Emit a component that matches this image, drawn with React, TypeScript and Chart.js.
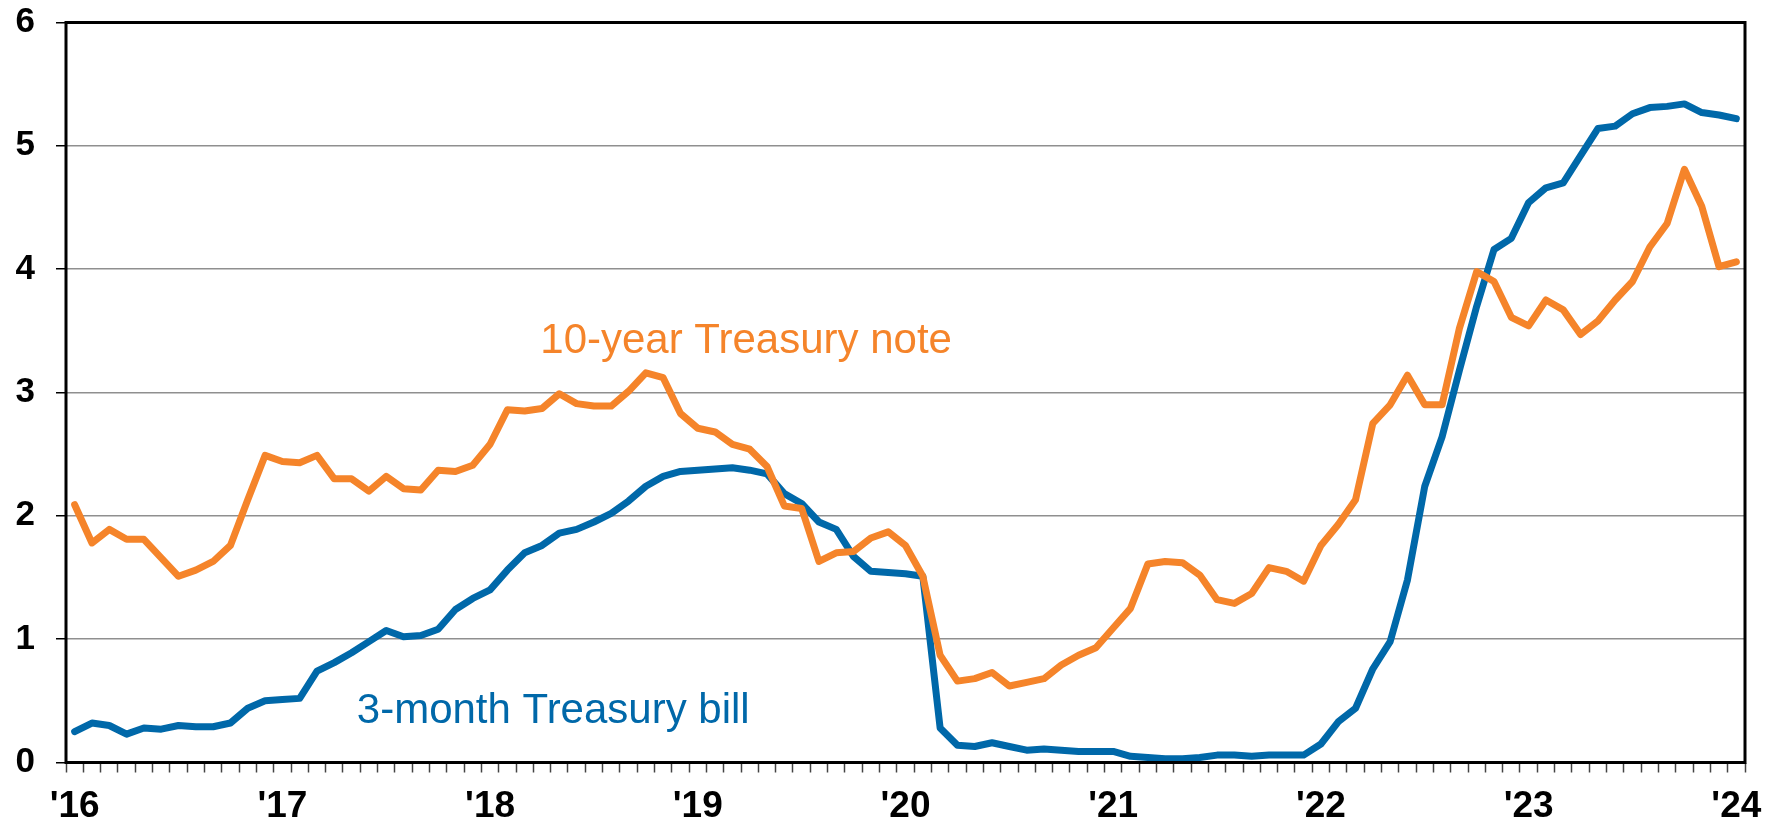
import { useEffect, useRef } from 'react';
import { Chart, registerables } from 'chart.js';

Chart.register(...registerables);

// ---- data ----
const YEARS = [2016, 2017, 2018, 2019, 2020, 2021, 2022, 2023, 2024];
const MONTHS = ['Jan', 'Feb', 'Mar', 'Apr', 'May', 'Jun', 'Jul', 'Aug', 'Sep', 'Oct', 'Nov', 'Dec'];
const yearTickLabels = ["'16", "'17", "'18", "'19", "'20", "'21", "'22", "'23", "'24"];

// monthly categories Jan 2016 .. Jan 2024
const categories: string[] = [];
YEARS.forEach((yr) => {
  MONTHS.forEach((m) => {
    if (yr < 2024 || m === 'Jan') categories.push(`${m} ${yr}`);
  });
});

const tenYearNote = [
  2.09, 1.78, 1.89, 1.81, 1.81, 1.66, 1.51, 1.56, 1.63, 1.76, 2.13, 2.49,
  2.44, 2.43, 2.49, 2.30, 2.30, 2.20, 2.32, 2.22, 2.21, 2.37, 2.36, 2.41,
  2.58, 2.86, 2.85, 2.87, 2.99, 2.91, 2.89, 2.89, 3.01, 3.16, 3.12, 2.83,
  2.71, 2.68, 2.58, 2.54, 2.40, 2.08, 2.06, 1.63, 1.70, 1.71, 1.82, 1.87,
  1.76, 1.51, 0.87, 0.66, 0.68, 0.73, 0.62, 0.65, 0.68, 0.79, 0.87, 0.93,
  1.09, 1.25, 1.61, 1.63, 1.62, 1.52, 1.32, 1.29, 1.37, 1.58, 1.55, 1.47,
  1.76, 1.93, 2.13, 2.75, 2.90, 3.14, 2.90, 2.90, 3.52, 3.98, 3.90, 3.61,
  3.54, 3.75, 3.67, 3.47, 3.58, 3.75, 3.90, 4.18, 4.37, 4.81, 4.51, 4.02,
  4.06,
];

const threeMonthBill = [
  0.25, 0.32, 0.30, 0.23, 0.28, 0.27, 0.30, 0.29, 0.29, 0.32, 0.44, 0.50,
  0.51, 0.52, 0.74, 0.81, 0.89, 0.98, 1.07, 1.02, 1.03, 1.08, 1.24, 1.33,
  1.40, 1.56, 1.70, 1.76, 1.86, 1.89, 1.95, 2.02, 2.12, 2.24, 2.32, 2.36,
  2.37, 2.38, 2.39, 2.37, 2.34, 2.18, 2.10, 1.95, 1.89, 1.67, 1.55, 1.54,
  1.53, 1.51, 0.28, 0.14, 0.13, 0.16, 0.13, 0.10, 0.11, 0.10, 0.09, 0.09,
  0.09, 0.05, 0.04, 0.03, 0.03, 0.04, 0.06, 0.06, 0.05, 0.06, 0.06, 0.06,
  0.15, 0.33, 0.44, 0.76, 0.98, 1.48, 2.24, 2.64, 3.18, 3.70, 4.16, 4.25,
  4.54, 4.66, 4.70, 4.92, 5.14, 5.16, 5.26, 5.31, 5.32, 5.34, 5.27, 5.25,
  5.22,
];

const seriesNames = ['10-year Treasury note', '3-month Treasury bill'];

// ---- styles ----
const ORANGE = '#F5842A';
const BLUE = '#0068A9';
const FONT = '"Liberation Sans", Arial, Helvetica, sans-serif';

// annotation anchors in data coordinates (category index, value at baseline)
const annotations = [
  { text: seriesNames[0], color: ORANGE, at: 26.9, value: 3.32 },
  { text: seriesNames[1], color: BLUE, at: 16.3, value: 0.32 },
];

const labelPlugin = {
  id: 'seriesLabels',
  afterDatasetsDraw(chart: any) {
    const { ctx, scales } = chart;
    ctx.save();
    ctx.font = `42px ${FONT}`;
    ctx.textAlign = 'left';
    ctx.textBaseline = 'alphabetic';
    annotations.forEach((a) => {
      ctx.fillStyle = a.color;
      ctx.fillText(a.text, scales.x.getPixelForValue(a.at), scales.y.getPixelForValue(a.value));
    });
    ctx.restore();
  },
};

const framePlugin = {
  id: 'frame',
  afterDraw(chart: any) {
    const { ctx, chartArea } = chart;
    ctx.save();
    ctx.strokeStyle = '#000';
    ctx.lineWidth = 3;
    ctx.strokeRect(chartArea.left, chartArea.top, chartArea.right - chartArea.left, chartArea.bottom - chartArea.top);
    ctx.restore();
  },
};

export default function App() {
  const ref = useRef<HTMLCanvasElement | null>(null);

  useEffect(() => {
    if (!ref.current) return;
    const chart = new Chart(ref.current, {
      type: 'line',
      data: {
        labels: categories,
        datasets: [
          {
            label: seriesNames[0],
            data: tenYearNote,
            borderColor: ORANGE,
            borderWidth: 7,
            pointRadius: 0,
            tension: 0,
            borderCapStyle: 'round',
            borderJoinStyle: 'round',
          },
          {
            label: seriesNames[1],
            data: threeMonthBill,
            borderColor: BLUE,
            borderWidth: 7,
            pointRadius: 0,
            tension: 0,
            borderCapStyle: 'round',
            borderJoinStyle: 'round',
          },
        ],
      },
      options: {
        animation: false,
        responsive: false,
        layout: { padding: { top: 22.5, right: 34, left: 0, bottom: 0 } },
        plugins: { legend: { display: false }, tooltip: { enabled: false } },
        scales: {
          x: {
            type: 'category',
            offset: true,
            border: { display: false },
            grid: {
              display: true,
              drawOnChartArea: false,
              drawTicks: true,
              tickLength: 10,
              offset: true,
              tickColor: '#444',
              tickWidth: 1.5,
            },
            ticks: {
              autoSkip: false,
              maxRotation: 0,
              minRotation: 0,
              padding: 12,
              color: '#000',
              font: { family: FONT, size: 37, weight: 'bold' },
              callback: (_v: any, i: number) => (i % 12 === 0 ? yearTickLabels[i / 12] : ''),
            },
            afterFit: (s: any) => {
              s.height = 61.5;
              s.paddingLeft = 0;
              s.paddingRight = 0;
            },
          },
          y: {
            min: 0,
            max: 6,
            border: { display: false },
            grid: {
              color: '#8f8f8f',
              lineWidth: 1.5,
              tickLength: 10,
              tickColor: '#000',
              tickWidth: 1.5,
            },
            ticks: {
              stepSize: 1,
              padding: 21,
              color: '#000',
              font: { family: FONT, size: 35, weight: 'bold' },
            },
            afterFit: (s: any) => {
              s.width = 66;
              s.paddingTop = 0;
              s.paddingBottom = 0;
            },
          },
        },
      },
      plugins: [labelPlugin, framePlugin],
    });
    return () => chart.destroy();
  }, []);

  return (
    <div style={{ position: 'fixed', left: 0, top: 0, width: 1779, height: 824, background: '#fff' }}>
      <canvas ref={ref} width={1779} height={824} style={{ display: 'block' }} />
    </div>
  );
}
